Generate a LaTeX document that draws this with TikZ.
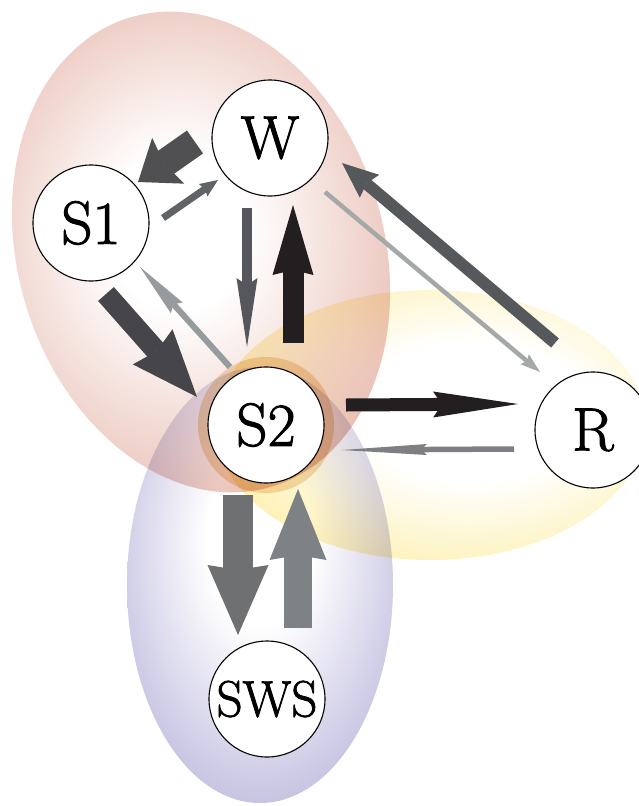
\documentclass[tikz,border=0pt]{standalone}
\usepackage{fontspec}
\newfontfamily\nodefont[FakeBold=1.6]{Latin Modern Roman}
\usetikzlibrary{arrows.meta,calc}

% rim colours of the three regions
\definecolor{redrim}{RGB}{224,165,150}
\definecolor{yellowrim}{RGB}{253,235,150}
\definecolor{bluerim}{RGB}{160,155,206}
\definecolor{ringcol}{RGB}{244,220,186}

% arrow greys
\definecolor{gA}{RGB}{80,80,82}
\definecolor{gB}{RGB}{95,100,103}
\definecolor{gC}{RGB}{70,70,74}
\definecolor{gD}{RGB}{150,155,157}
\definecolor{gE}{RGB}{85,87,92}
\definecolor{gK}{RGB}{35,31,32}
\definecolor{gF}{RGB}{165,168,168}
\definecolor{gG}{RGB}{85,89,92}
\definecolor{gH}{RGB}{125,127,130}
\definecolor{gI}{RGB}{110,112,114}
\definecolor{gJ}{RGB}{127,130,132}

\pgfdeclareradialshading{redglow}{\pgfpoint{-3bp}{4bp}}{color(0bp)=(white); color(8bp)=(white); color(36bp)=(redrim); color(80bp)=(redrim)}
\pgfdeclareradialshading{yellowglow}{\pgfpoint{6bp}{3bp}}{color(0bp)=(white); color(13bp)=(white); color(37bp)=(yellowrim); color(80bp)=(yellowrim)}
\pgfdeclareradialshading{blueglow}{\pgfpoint{0bp}{6bp}}{color(0bp)=(white); color(10bp)=(white); color(42bp)=(bluerim); color(80bp)=(bluerim)}

\tikzset{
  state/.style={circle, draw=black, line width=1.1pt, fill=white,
    minimum size=116pt, inner sep=0pt,
    font=\nodefont\fontsize{61}{61}\selectfont},
  flow/.style n args={5}{draw=#5, line width=#1,
    -{Stealth[length=#2, width=#3, inset=#4, line width=0pt]}},
}

\begin{document}
\begin{tikzpicture}[x=1pt, y=-1pt]
\useasboundingbox (0,0) rectangle (639,806);

% coloured regions, multiplied onto each other
\begin{scope}[blend mode=multiply]
  \shade[shading=redglow, rotate around={17:(201,252)}]
    (201,252) ellipse [x radius=183, y radius=245];
  \shade[shading=yellowglow] (430,425) ellipse [x radius=215, y radius=135];
  \shade[shading=blueglow] (260,585) ellipse [x radius=133, y radius=218];
  \fill[ringcol, even odd rule] (266,425) circle [radius=68] circle [radius=57];
\end{scope}

% states
\node[state] (W)   at (270,138) {W};
\node[state] (S1)  at (91,223)  {S1};
\node[state] (S2)  at (266,425) {S2};
\node[state] (R)   at (593,430) {R};
\node[state] (SWS) at (267,699) {\fontsize{51}{51}\selectfont SWS};

% transitions
\draw[flow={28pt}{37pt}{56pt}{5pt}{gA}]  ($(W)+(-75,4)$)   -- ($(S1)+(47,-41)$);
\draw[flow={7pt}{18pt}{15pt}{2pt}{gB}]   ($(S1)+(72,-5)$)  -- ($(W)+(-52,42)$);
\draw[flow={21pt}{67pt}{53pt}{6pt}{gC}]  ($(S1)+(15,71)$)  -- ($(S2)+(-69,-28)$);
\draw[flow={6pt}{55pt}{16pt}{5pt}{gD}]   ($(S2)+(-36,-58)$) -- ($(S1)+(49,44)$);
\draw[flow={10pt}{69pt}{21pt}{7pt}{gE}]  ($(W)+(-23,70)$)  -- ($(S2)+(-19,-78)$);
\draw[flow={21pt}{70pt}{41pt}{5pt}{gK}]  ($(S2)+(27,-82)$) -- ($(W)+(23,67)$);
\draw[flow={4.5pt}{20pt}{13pt}{3pt}{gF}] ($(W)+(55,54)$)   -- ($(R)+(-53,-58)$);
\draw[flow={12pt}{36pt}{30pt}{4pt}{gG}]  ($(R)+(-38,-87)$) -- ($(W)+(72,25)$);
\draw[flow={13pt}{85pt}{26pt}{9pt}{gK}]  ($(S2)+(80,-20)$) -- ($(R)+(-75,-26)$);
\draw[flow={5.5pt}{85pt}{11pt}{6pt}{gH}] ($(R)+(-79,19)$)  -- ($(S2)+(76,25)$);
\draw[flow={30pt}{70pt}{61pt}{5pt}{gI}]  ($(S2)+(-28,70)$) -- ($(SWS)+(-29,-64)$);
\draw[flow={28pt}{71pt}{57pt}{5pt}{gJ}]  ($(SWS)+(31,-71)$) -- ($(S2)+(32,64)$);
\end{tikzpicture}
\end{document}
